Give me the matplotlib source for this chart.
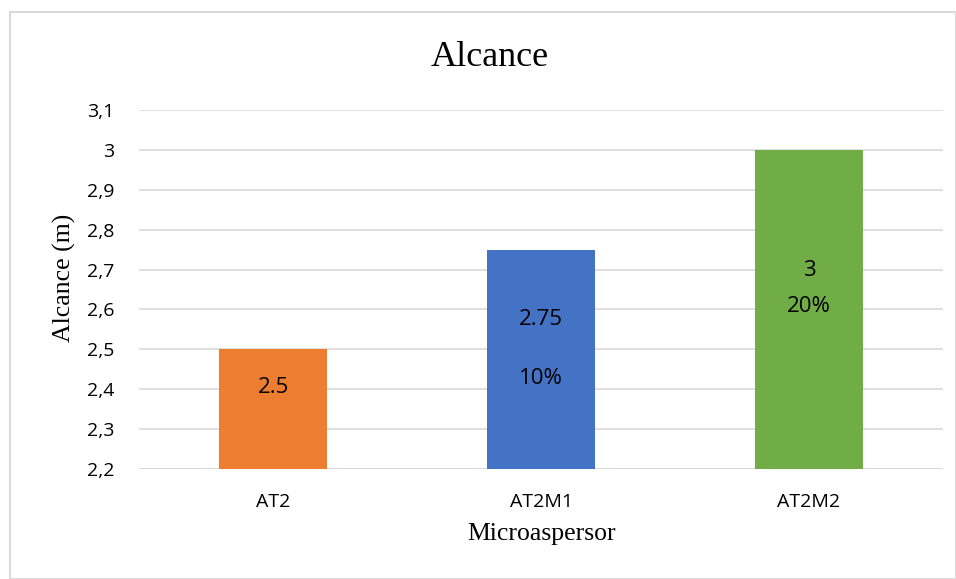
import matplotlib
matplotlib.use("Agg")
import matplotlib.pyplot as plt
from matplotlib.patches import Rectangle

categories = ["AT2", "AT2M1", "AT2M2"]
alcance = [2.5, 2.75, 3.0]
value_labels = ["2.5", "2.75", "3"]
pct_labels = ["", "10%", "20%"]
colors = ["#ED7D31", "#4472C4", "#70AD47"]
yticks = [2.2, 2.3, 2.4, 2.5, 2.6, 2.7, 2.8, 2.9, 3.0, 3.1]
ytick_labels = ["2,2", "2,3", "2,4", "2,5", "2,6", "2,7", "2,8", "2,9", "3", "3,1"]

# label heights inside each bar (data units)
value_label_y = [2.405, 2.574, 2.697]
pct_label_y = [None, 2.427, 2.607]

sans = ["Open Sans", "DejaVu Sans"]
serif = ["Liberation Serif", "DejaVu Serif"]

fig = plt.figure(figsize=(9.56, 5.79), dpi=100)
ax = fig.add_axes([0.1454, 0.19, 0.8410, 0.62])

x = range(len(categories))
ax.bar(x, [v - 2.2 for v in alcance], bottom=2.2, width=0.403,
       color=colors, zorder=3)

ax.set_xlim(-0.5, 2.5)
ax.set_ylim(2.2, 3.1)
ax.set_yticks(yticks)
ax.set_yticklabels(ytick_labels, fontfamily=sans, fontsize=14)
ax.set_xticks(list(x))
ax.set_xticklabels(categories, fontfamily=sans, fontsize=14)
ax.tick_params(axis="both", length=0, colors="#000000")
ax.tick_params(axis="y", pad=18)
ax.tick_params(axis="x", pad=17)

ax.grid(axis="y", color="#d9d9d9", linewidth=1.2, zorder=0)
for s in ax.spines.values():
    s.set_visible(False)
ax.axhline(2.2, color="#d9d9d9", linewidth=1.2, zorder=2)

for i in range(len(categories)):
    ax.text(i, value_label_y[i], value_labels[i], ha="center", va="center",
            fontfamily=sans, fontsize=16, color="#000000", zorder=4)
    if pct_labels[i]:
        ax.text(i, pct_label_y[i], pct_labels[i], ha="center", va="center",
                fontfamily=sans, fontsize=16, color="#000000", zorder=4)

fig.text(0.5125, 1 - 66 / 579, "Alcance", ha="center", va="baseline",
         fontfamily=serif, fontsize=26)
fig.text(0.566, 1 - 540 / 579, "Microaspersor", ha="center", va="baseline",
         fontfamily=serif, fontsize=18.5)
fig.text(0.067, 1 - 278 / 579, "Alcance (m)", ha="center", va="center",
         rotation=90, fontfamily=serif, fontsize=18.5)

fig.add_artist(Rectangle((9.5 / 956, 0), (956 - 9.5) / 956, 1 - 11.5 / 579,
                         transform=fig.transFigure, fill=False,
                         edgecolor="#d9d9d9", linewidth=1.5))

fig.savefig("out.png", dpi=100)
